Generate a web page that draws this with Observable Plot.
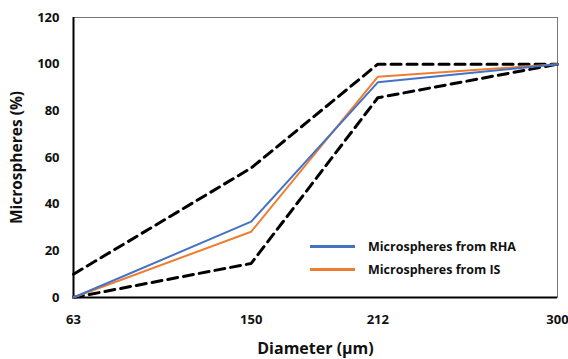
<!DOCTYPE html>
<html>
<head>
<meta charset="utf-8">
<script src="https://cdn.jsdelivr.net/npm/d3@7"></script>
<script src="https://cdn.jsdelivr.net/npm/@observablehq/plot@0.6"></script>
<style>
  html, body { margin: 0; padding: 0; background: #fff; }
  #wrap { position: relative; width: 568px; height: 359px; font-family: "Open Sans", sans-serif; }
  .legend { position: absolute; left: 310px; top: 235px; font-weight: bold; font-size: 12.5px; color: #111; }
  .legend .row { display: flex; align-items: center; height: 23px; }
  .legend .sw { width: 45px; height: 2.5px; margin-right: 13px; }
</style>
</head>
<body>
<div id="wrap"></div>
<script>
const diameters = [63, 150, 212, 300];
const xTicks = [63, 150, 212, 300];
const yTicks = [0, 20, 40, 60, 80, 100, 120];
const rha = [0, 32.5, 92.2, 100];
const is = [0, 28.2, 94.6, 100];
const upperBound = [10, 55.5, 100, 100];
const lowerBound = [0, 14.6, 85.6, 100];

const seriesNames = ["Microspheres from RHA", "Microspheres from IS"];
const seriesColors = ["#4472C4", "#ED7D31"];

const toRows = (vals) => diameters.map((d, i) => ({d, v: vals[i]}));

const chart = Plot.plot({
  width: 568,
  height: 359,
  marginLeft: 73,
  marginRight: 11,
  marginTop: 17,
  marginBottom: 62,
  style: {fontFamily: "Open Sans, sans-serif", fontWeight: "bold", color: "#111", background: "#fff"},
  x: {domain: [63, 300]},
  y: {domain: [0, 120]},
  marks: [
    Plot.frame({stroke: "#777", strokeWidth: 1}),
    Plot.axisY({ticks: yTicks, tickSize: 0, tickPadding: 14, fontSize: 13, label: null}),
    Plot.axisY({ticks: [], label: "Microspheres (%)", labelAnchor: "center", labelArrow: "none", labelOffset: 63, fontSize: 15.5}),
    Plot.axisX({ticks: xTicks, tickSize: 0, tickPadding: 17, fontSize: 13, label: null}),
    Plot.axisX({ticks: [], label: "Diameter (µm)", labelAnchor: "center", labelArrow: "none", labelOffset: 56, fontSize: 16}),
    Plot.ruleX([63], {stroke: "#000", strokeWidth: 2}),
    Plot.ruleY([0], {stroke: "#000", strokeWidth: 2}),
    Plot.line(toRows(upperBound), {x: "d", y: "v", stroke: "#000", strokeWidth: 3, strokeDasharray: "10,6"}),
    Plot.line(toRows(lowerBound), {x: "d", y: "v", stroke: "#000", strokeWidth: 3, strokeDasharray: "10,6"}),
    Plot.line(toRows(is), {x: "d", y: "v", stroke: seriesColors[1], strokeWidth: 2}),
    Plot.line(toRows(rha), {x: "d", y: "v", stroke: seriesColors[0], strokeWidth: 2})
  ]
});

const wrap = document.getElementById("wrap");
wrap.appendChild(chart);
const legend = document.createElement("div");
legend.className = "legend";
seriesNames.forEach((name, i) => {
  const row = document.createElement("div");
  row.className = "row";
  const sw = document.createElement("span");
  sw.className = "sw";
  sw.style.background = seriesColors[i];
  const t = document.createElement("span");
  t.textContent = name;
  row.appendChild(sw);
  row.appendChild(t);
  legend.appendChild(row);
});
wrap.appendChild(legend);
</script>
</body>
</html>
